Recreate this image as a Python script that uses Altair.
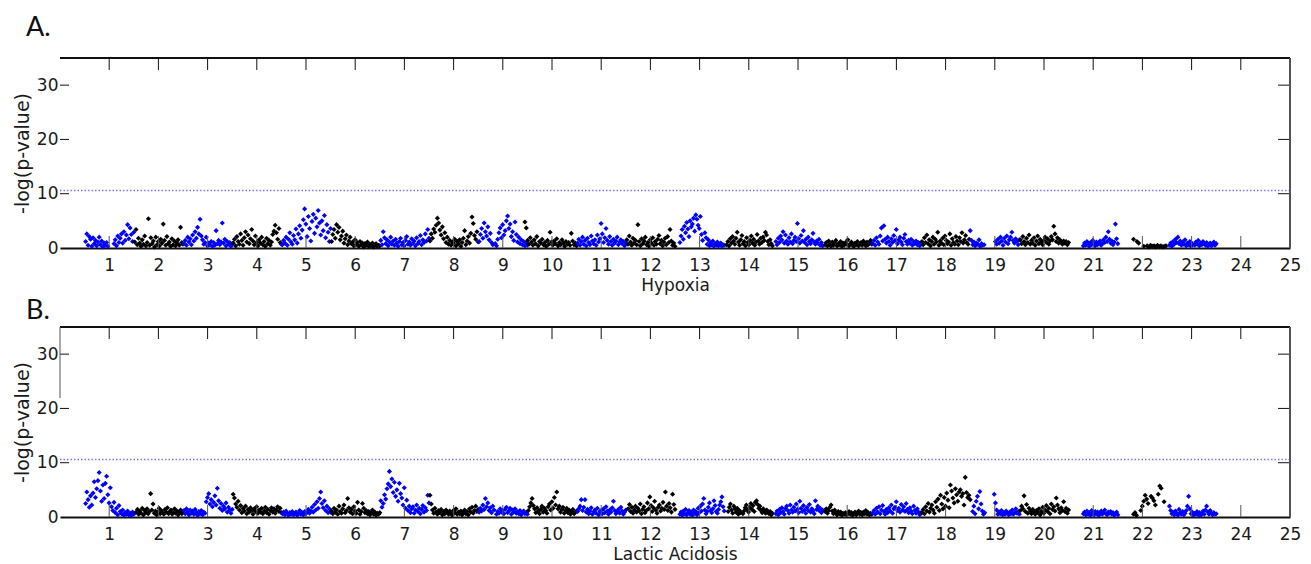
import altair as alt
import pandas as pd

# ---------------- data ----------------
chromosomes = list(range(1, 24))
x_tick_values = list(range(1, 26))
y_tick_values = [10, 20, 30]
y_label_values = [0, 10, 20, 30]
threshold = 10.6

# Panel A: Hypoxia — span (start, end) of points for each chromosome, and -log(p) values in position order
hyp_start = [0.52, 1.52, 2.52, 3.52, 4.52, 5.52, 6.52, 7.52, 8.52, 9.45, 10.52, 11.52,
             12.60, 13.55, 14.55, 15.55, 16.52, 17.52, 18.50, 19.52, 20.80, 21.82, 22.55]
hyp_end = [1.50, 2.50, 3.50, 4.50, 5.50, 6.50, 7.50, 8.50, 9.50, 10.50, 11.50, 12.50,
           13.50, 14.48, 15.50, 16.50, 17.50, 18.48, 19.50, 20.50, 21.50, 22.48, 23.50]
hyp_values = [
    [1.2,2.6,0.5,2.1,1.6,0.3,1.9,0.8,1.4,0.4,1.1,2.0,0.6,1.3,0.2,0.9,0.5,1.0,0.3,None,None,None,None,0.8,1.5,0.4,2.2,1.0,1.8,2.6,0.9,3.0,1.4,2.4,4.3,1.7,3.7,2.5,1.2,2.9],
    [1.1,3.4,0.6,1.8,0.9,0.3,1.5,0.7,2.2,0.4,1.0,5.4,0.5,1.9,0.8,1.3,0.2,2.0,0.6,1.2,0.4,1.6,0.9,4.4,1.4,0.5,2.1,0.8,1.1,0.3,1.7,0.6,1.3,0.4,0.9,1.5,0.5,3.8,1.0,0.7],
    [0.8,1.4,0.5,2.0,1.1,1.7,0.6,2.4,1.3,3.0,1.8,3.8,2.6,5.3,2.2,1.5,0.7,1.0,2.0,0.4,0.9,0.6,1.2,0.3,1.0,0.5,3.2,0.8,1.4,0.6,1.1,4.6,0.9,1.6,0.4,1.2,0.7,1.0,0.3,0.8],
    [0.9,1.6,0.4,2.1,1.2,0.7,2.6,1.4,0.5,1.9,3.0,1.1,2.4,0.8,1.7,3.4,1.3,0.6,2.2,1.0,0.4,1.5,0.9,2.0,0.6,1.2,0.3,1.8,0.8,1.4,0.5,1.1,2.5,3.1,4.2,2.8,1.6,3.6,1.0,0.7],
    [0.6,1.4,0.9,2.0,0.5,1.6,2.8,1.1,0.7,2.3,1.5,3.5,0.9,2.6,4.1,1.8,3.3,5.2,7.2,4.4,2.1,5.8,3.6,1.3,4.9,6.2,2.7,5.5,3.9,6.9,4.6,2.4,5.0,3.2,6.0,1.9,4.3,2.9,1.2,3.6],
    [1.2,2.5,3.4,1.8,4.3,2.9,3.8,1.5,2.2,3.1,0.9,1.7,2.4,0.6,1.3,2.0,0.8,1.1,0.4,1.5,0.7,1.0,0.3,1.2,0.6,0.9,0.2,0.8,0.5,1.1,0.3,0.7,0.4,0.9,0.2,0.6,0.8,0.3,0.5,0.4],
    [1.4,0.6,3.0,1.9,0.8,1.5,0.4,1.1,2.0,0.7,1.3,0.5,1.6,0.9,0.3,1.2,1.8,0.6,1.0,0.4,1.4,2.1,0.7,1.1,0.5,1.7,0.9,1.3,0.4,1.9,0.8,1.2,2.3,0.6,1.5,1.0,2.6,1.3,3.4,1.8],
    [1.3,2.6,1.8,3.5,2.9,4.2,5.5,4.6,3.3,2.4,3.9,1.7,2.8,1.0,2.0,0.7,1.4,0.5,1.1,0.9,1.6,0.4,1.2,0.8,1.5,0.3,1.0,1.8,3.2,0.6,1.3,2.1,0.9,2.7,5.7,4.5,2.3,1.6,3.0,1.1],
    [1.2,2.5,3.6,1.8,4.6,3.0,2.2,3.9,1.5,2.7,1.0,0.6,None,0.8,0.4,1.6,2.8,3.7,1.9,4.3,2.4,3.2,5.0,5.9,3.6,4.4,2.1,3.0,1.4,4.8,2.5,1.1,2.0,0.8,1.5,0.6,1.2,0.4,0.9,0.5],
    [4.8,3.7,1.4,0.7,1.9,1.1,0.5,1.5,0.8,2.1,0.4,1.2,0.9,1.6,0.6,1.0,0.3,1.4,0.7,2.9,1.1,0.5,1.3,0.8,1.7,0.4,1.0,0.6,1.5,0.9,0.3,1.2,0.7,1.0,0.5,2.7,1.3,0.6,0.9,0.4],
    [0.9,1.6,0.5,1.2,2.0,0.7,1.4,0.4,1.8,1.0,0.6,2.2,1.3,0.8,1.5,0.5,2.4,1.1,1.7,4.5,2.6,1.0,1.9,3.6,1.4,0.7,2.1,1.2,0.5,1.6,0.9,1.3,2.0,0.6,1.1,1.5,0.8,1.2,0.4,1.0],
    [1.5,0.7,2.2,1.1,0.5,1.8,0.9,1.4,0.6,4.3,1.2,0.4,1.7,0.8,1.3,2.0,0.6,1.0,0.3,1.5,0.9,1.9,0.5,1.2,0.7,1.6,2.3,0.8,1.4,0.4,1.1,1.8,0.6,2.1,1.0,3.4,1.3,0.5,0.9,0.3],
    [1.0,2.2,3.4,1.6,4.0,2.8,4.7,3.5,2.1,5.0,3.9,4.4,5.5,3.1,6.1,5.3,4.2,3.6,5.8,2.5,1.4,None,2.8,1.9,0.7,1.5,0.4,1.0,0.6,1.3,0.3,0.8,0.5,1.1,0.4,0.7,0.9,0.3,0.6,0.5],
    [0.6,1.2,0.4,1.7,0.9,2.1,1.3,0.7,1.8,2.9,1.1,0.5,1.5,2.3,0.8,1.2,0.4,1.9,1.0,0.6,1.4,2.2,0.9,1.6,0.5,1.1,2.5,1.3,0.7,1.8,1.0,2.0,1.4,2.9,2.4,1.2,0.6,1.5,0.8,0.4],
    [1.2,0.6,1.8,1.0,2.2,1.5,3.0,0.9,2.4,1.3,0.7,1.9,1.1,2.6,0.8,1.4,2.0,1.2,4.5,1.7,0.9,2.3,1.3,3.2,1.0,1.6,0.6,2.0,1.2,0.8,1.5,2.7,1.1,0.7,1.3,0.9,1.6,0.5,1.0,0.4],
    [0.6,1.0,0.4,1.3,0.7,0.3,1.1,0.5,0.9,1.4,0.4,0.8,0.6,1.2,0.3,0.9,0.5,1.0,0.7,1.5,0.4,0.8,1.1,0.5,0.3,0.9,0.6,1.2,0.4,0.7,1.0,0.5,1.3,0.8,0.4,1.1,0.6,0.9,1.4,0.7],
    [0.8,1.4,0.5,1.9,1.1,0.7,2.2,3.7,1.3,4.1,1.6,0.9,2.0,1.2,0.5,1.7,1.0,2.3,1.4,3.4,0.8,1.5,2.0,1.1,0.6,1.8,2.5,1.2,0.7,1.4,0.9,1.6,0.5,1.2,0.8,1.3,0.6,1.0,0.4,0.9],
    [1.2,0.6,1.9,1.0,2.4,0.8,1.5,0.4,1.2,2.0,0.7,1.6,1.1,2.9,0.5,1.3,0.9,1.8,0.6,2.2,1.4,0.8,1.1,2.6,0.5,1.7,1.0,0.7,2.1,1.3,0.6,1.9,1.2,2.8,0.9,1.5,2.3,1.0,0.7,1.6],
    [3.2,1.4,0.6,1.1,0.4,0.9,0.7,1.5,0.3,0.8,0.5,0.6,None,None,None,None,None,None,None,None,1.2,0.7,1.6,0.9,2.0,1.3,0.5,1.8,1.1,2.2,0.8,1.5,2.0,2.9,1.4,0.9,1.7,1.2,0.6,1.5],
    [1.5,0.8,2.1,1.2,0.6,1.8,1.0,2.4,0.7,1.4,0.9,1.9,0.5,1.3,2.2,0.8,1.6,1.1,0.6,1.4,2.0,1.0,1.7,0.7,1.3,2.1,1.5,4.0,2.6,1.2,1.9,0.9,1.5,1.1,0.7,1.3,0.9,1.2,0.6,1.0],
    [0.4,0.9,0.5,1.2,0.7,0.3,1.0,0.6,1.4,0.8,0.4,1.1,0.6,0.9,1.3,0.5,0.8,1.5,1.0,2.0,1.2,3.0,1.6,0.9,1.3,0.6,1.1,4.4,1.7,0.8],
    [1.6,None,1.2,0.9,None,None,0.3,None,0.4,0.2,0.5,0.3,0.4,0.2,0.5,0.3,0.4,0.2,0.3,0.4],
    [0.5,0.9,0.3,1.2,0.7,1.6,1.0,2.0,0.8,1.3,0.5,1.1,0.7,1.5,0.4,0.9,0.6,1.2,0.3,0.8,None,0.5,1.1,0.7,1.4,0.4,0.9,0.6,1.2,0.8,0.5,1.0,0.3,0.7,0.9,0.4,0.6,1.1,0.5,0.8],
]

# Panel B: Lactic Acidosis
lac_start = [0.52, 1.55, 2.52, 3.52, 4.52, 5.52, 6.52, 7.52, 8.52, 9.52, 10.52, 11.55,
             12.60, 13.58, 14.55, 15.55, 16.52, 17.52, 18.55, 19.52, 20.80, 21.82, 22.55]
lac_end = [1.50, 2.50, 3.50, 4.50, 5.50, 6.50, 7.50, 8.50, 9.50, 10.50, 11.50, 12.50,
           13.50, 14.48, 15.50, 16.50, 17.50, 18.50, 19.50, 20.50, 21.50, 22.50, 23.50]
lac_values = [
    [2.5,4.6,3.2,1.8,3.9,2.2,4.4,6.5,3.6,5.2,6.7,8.2,4.8,2.9,5.9,3.4,6.2,7.5,4.1,2.6,5.4,1.9,1.2,2.7,0.8,1.6,0.4,2.1,1.0,0.6,1.3,0.3,0.8,0.5,1.1,0.4,0.7,0.3,0.9,0.5],
    [0.9,1.4,0.5,1.1,0.7,1.6,0.4,1.2,0.8,1.5,0.6,1.0,4.3,1.3,2.4,0.7,1.1,0.4,0.9,1.6,0.6,1.2,0.8,0.5,1.4,0.9,1.7,0.6,1.0,1.3,0.5,0.8,1.5,0.7,1.1,0.4,0.9,1.3,0.6,1.0],
    [1.2,0.6,1.5,0.9,0.4,1.3,0.7,1.1,0.5,1.4,0.8,0.3,1.0,0.6,1.2,0.4,0.9,0.7,2.8,3.6,4.3,2.4,3.2,1.9,2.7,3.9,2.2,5.3,3.0,1.6,2.5,1.2,2.0,1.5,2.6,0.9,1.8,1.3,0.7,1.4],
    [4.2,3.5,2.4,1.8,2.9,1.3,2.1,0.8,1.6,1.1,2.0,0.6,1.4,0.9,1.7,1.2,0.5,1.5,1.0,1.9,0.7,1.3,0.9,1.6,0.6,1.1,1.8,0.8,1.4,0.5,1.2,1.7,0.9,1.5,0.7,1.3,1.9,1.0,1.6,0.8],
    [0.6,0.9,0.4,1.1,0.7,0.3,0.8,0.5,1.0,0.4,0.7,0.9,0.3,0.6,1.2,0.5,0.8,0.4,1.0,0.6,0.9,1.4,0.7,1.1,1.8,0.9,2.3,1.3,2.8,1.6,3.4,4.6,2.5,1.7,3.0,1.2,2.0,0.8,1.5,0.9],
    [1.1,0.6,1.6,0.9,1.3,0.5,2.0,1.0,0.7,1.5,2.2,0.8,1.2,3.4,1.7,0.9,1.4,0.6,1.9,1.1,0.7,2.7,1.3,0.5,1.0,2.5,1.6,0.8,1.2,0.6,1.0,0.4,0.8,1.3,0.5,0.9,0.3,0.7,0.5,0.8],
    [3.0,1.8,2.5,4.1,3.3,5.2,6.1,8.4,5.6,7.0,4.5,6.4,3.8,5.0,2.9,6.2,4.3,3.5,2.2,5.4,1.6,3.1,1.2,2.0,0.8,1.5,1.9,0.7,1.3,2.2,1.0,1.6,0.6,1.4,2.1,0.9,1.7,1.2,4.0,2.6],
    [4.0,2.4,1.3,0.7,1.6,0.9,0.5,1.2,0.8,1.4,0.4,1.0,0.6,1.3,0.9,0.5,1.1,0.7,0.3,1.2,0.8,1.5,0.5,0.9,0.6,1.1,0.4,0.8,1.3,0.6,1.0,0.4,1.5,0.9,1.8,0.7,1.2,2.0,1.0,1.4],
    [0.9,1.6,1.1,2.2,1.4,3.4,1.9,2.6,1.2,1.7,0.8,2.0,1.3,None,0.5,1.0,0.7,1.5,0.9,1.2,0.6,1.4,1.8,0.8,1.1,1.6,0.5,1.3,0.9,1.5,0.7,1.0,0.6,1.2,0.4,0.9,1.1,0.6,0.8,0.5],
    [1.2,1.9,2.6,3.4,2.1,1.5,0.8,1.7,1.1,0.6,1.4,2.0,0.9,1.6,1.2,0.7,1.9,2.4,1.3,2.8,1.6,3.6,2.2,4.6,1.5,2.0,0.9,1.4,1.8,0.7,1.2,1.6,0.8,1.3,0.5,1.0,1.4,0.6,0.9,1.1],
    [1.0,1.5,2.0,3.2,1.2,1.8,3.2,0.9,1.4,0.6,1.1,1.7,0.5,0.9,1.3,0.7,1.6,0.4,1.0,1.2,0.6,1.5,0.8,1.9,1.1,0.5,1.3,0.9,1.7,2.9,1.2,0.6,1.0,1.4,0.7,1.8,1.1,0.5,0.9,1.3],
    [1.5,2.3,1.0,1.8,0.7,1.3,2.0,0.9,1.6,1.1,2.4,0.6,1.4,1.9,0.8,1.2,2.6,1.5,3.7,2.1,1.0,1.7,2.9,1.3,0.7,1.8,2.2,1.1,1.6,2.7,1.4,4.6,2.0,1.2,2.5,1.7,0.9,4.2,2.3,1.4],
    [0.5,0.9,0.3,1.1,0.6,1.4,0.4,0.8,1.2,0.5,0.9,0.3,1.3,0.7,1.0,0.4,1.6,0.8,2.0,1.1,2.4,3.4,1.3,0.6,1.0,1.8,2.6,1.2,0.8,1.5,3.0,2.1,1.0,0.7,1.4,2.2,2.8,3.7,1.9,1.1],
    [1.0,1.8,2.4,1.3,0.7,2.0,1.5,0.9,1.6,0.5,1.2,0.8,None,0.6,1.1,1.7,2.2,1.3,0.9,1.8,2.5,1.4,2.1,1.0,2.7,3.0,2.3,1.6,2.0,1.2,0.8,1.5,1.1,0.7,1.3,0.9,0.6,1.0,0.4,0.7],
    [0.6,1.1,0.4,1.4,0.8,1.7,1.0,0.5,1.5,2.0,1.2,0.7,2.2,1.3,0.9,1.8,1.1,2.4,1.4,0.8,2.9,1.6,1.0,2.1,1.3,0.7,1.8,1.2,2.3,0.9,1.5,1.1,0.6,3.0,1.4,2.0,1.2,1.6,0.8,1.3],
    [1.0,1.5,0.7,1.2,1.8,2.2,1.1,0.6,1.3,0.8,0.4,1.0,0.6,0.9,0.3,0.7,0.5,0.8,0.4,0.6,1.0,0.5,0.8,0.3,0.6,0.9,0.4,0.7,1.1,0.5,0.8,0.4,0.9,0.6,1.2,0.5,0.8,0.4,0.7,0.5],
    [0.7,1.2,0.5,1.6,0.9,1.9,0.6,1.3,2.1,1.0,0.5,1.4,0.8,1.7,1.1,2.2,0.7,1.5,1.8,2.8,1.2,1.6,0.9,2.3,1.3,1.9,1.0,2.5,1.4,0.8,1.7,1.1,0.6,2.0,1.2,0.7,1.5,0.9,0.4,0.8],
    [0.8,1.4,0.6,1.9,1.1,2.5,0.9,1.6,2.2,1.3,0.7,2.8,1.8,3.3,1.2,4.0,2.4,1.5,3.6,2.0,4.4,3.1,1.7,5.9,4.8,3.5,2.6,5.2,4.1,2.9,4.6,5.0,3.8,4.3,2.2,7.3,4.5,3.6,4.0,3.2],
    [1.0,2.0,0.6,2.9,3.8,1.5,4.7,2.4,1.1,0.5,0.8,None,None,None,None,None,None,None,4.2,2.6,1.3,0.5,0.9,0.6,1.2,0.4,0.8,0.5,1.1,0.7,0.4,0.9,0.6,1.3,0.5,0.8,1.5,0.7,1.0,0.5],
    [1.2,2.0,1.5,3.9,1.0,2.3,0.7,1.6,1.1,0.6,1.4,0.9,0.5,1.2,0.8,1.5,0.4,1.0,1.8,0.7,1.3,2.1,1.0,1.6,0.6,2.4,1.4,1.9,1.1,3.5,2.2,1.5,0.8,1.7,1.2,2.8,1.0,1.6,0.7,1.3],
    [0.6,0.9,0.4,1.1,0.5,0.8,0.3,1.2,0.7,0.4,1.0,0.6,0.9,0.3,0.7,1.1,0.5,0.8,1.3,0.6,0.4,0.9,0.7,1.0,0.5,0.8,0.3,0.6,0.9,0.4],
    [0.5,0.8,0.3,None,None,1.2,2.0,2.9,4.0,3.3,2.5,None,3.8,3.5,3.0,2.2,None,4.2,5.7,5.3,None,2.8,None,None],
    [2.0,1.2,0.6,0.9,0.4,1.1,0.7,0.3,1.4,0.8,0.5,1.0,0.4,0.7,1.2,2.0,3.8,1.5,0.6,0.9,0.3,0.7,0.5,1.0,0.4,0.8,0.3,0.6,1.1,0.5,1.3,2.0,0.9,0.5,1.2,0.7,0.4,0.8,0.5,0.6],
]

# left axis line in panel B is only drawn over the upper part
lac_left_line = [35, 21.9]


def build(values, starts, ends):
    rows = []
    for c, vals, s, e in zip(chromosomes, values, starts, ends):
        n = len(vals)
        for i, v in enumerate(vals):
            if v is None:
                continue
            rows.append({"pos": s + (e - s) * i / (n - 1), "logp": v,
                         "group": "odd" if c % 2 else "even"})
    return pd.DataFrame(rows)


W, H = 1230, 190
FONT = "DejaVu Sans"
x_scale = alt.Scale(domain=[0, 25], nice=False, zero=False)
y_scale = alt.Scale(domain=[0, 35], nice=False, zero=False)
xt = pd.DataFrame({"pos": x_tick_values})
yt = pd.DataFrame({"logp": y_tick_values})


def panel(df, xtitle, letter, letter_y, left_line=None):
    x_axis = alt.Axis(values=x_tick_values, title=xtitle, ticks=False, tickSize=0, grid=False,
                      domain=True, domainColor="#111111", domainWidth=2,
                      labelPadding=9, titlePadding=4, labelFlush=False)
    y_axis = alt.Axis(values=y_label_values, title="-log(p-value)", ticks=False, tickSize=0,
                      grid=False, domain=False, labelPadding=2, titlePadding=4,
                      titleFontSize=19)
    X = lambda: alt.X("pos:Q", scale=x_scale, axis=x_axis)
    Y = lambda: alt.Y("logp:Q", scale=y_scale, axis=y_axis)

    pts = alt.Chart(df).mark_point(shape="diamond", filled=True, size=26, opacity=1).encode(
        x=X(), y=Y(),
        color=alt.Color("group:N", scale=alt.Scale(domain=["odd", "even"], range=["#0000ff", "#000000"]),
                        legend=None),
    )
    thr = alt.Chart(pd.DataFrame({"logp": [threshold]})).mark_rule(
        color="#7777ff", strokeDash=[1.5, 2], strokeWidth=1.4
    ).encode(y=Y())
    top_ticks = alt.Chart(xt).mark_rule(color="#111111", strokeWidth=1).encode(
        x=X(), y=alt.value(0), y2=alt.value(12))
    bot_ticks = alt.Chart(xt).mark_rule(color="#555555", strokeWidth=1).encode(
        x=X(), y=alt.value(H - 12), y2=alt.value(H))
    left_ticks = alt.Chart(yt).mark_rule(color="#111111", strokeWidth=1).encode(
        y=Y(), x=alt.value(0), x2=alt.value(9))
    right_ticks = alt.Chart(yt).mark_rule(color="#111111", strokeWidth=1).encode(
        y=Y(), x=alt.value(W - 12), x2=alt.value(W))
    top_line = alt.Chart(xt).mark_rule(color="#111111", strokeWidth=1.5).encode(
        x=alt.value(0), x2=alt.value(W), y=alt.value(0))
    right_line = alt.Chart(xt).mark_rule(color="#555555", strokeWidth=1).encode(
        x=alt.value(W), y=alt.value(0), y2=alt.value(H))
    label = alt.Chart(pd.DataFrame({"lab": [letter]})).mark_text(
        align="left", baseline="alphabetic", fontSize=27, font="Lato", color="#111111"
    ).encode(text="lab:N", x=alt.value(-34), y=alt.value(letter_y))
    layers = [thr, pts, top_ticks, bot_ticks, left_ticks, right_ticks, top_line, right_line, label]
    if left_line is not None:
        ll = alt.Chart(pd.DataFrame({"logp": [left_line[0]], "b": [left_line[1]]})).mark_rule(
            color="#555555", strokeWidth=1).encode(x=alt.value(0), y=Y(), y2="b:Q")
        layers.append(ll)
    return alt.layer(*layers).properties(width=W, height=H)


chart_a = panel(build(hyp_values, hyp_start, hyp_end), "Hypoxia", "A.", -22)
chart_b = panel(build(lac_values, lac_start, lac_end), "Lactic Acidosis", "B.", -8, lac_left_line)

chart = alt.vconcat(chart_a, chart_b, spacing=4).properties(
    padding={"left": 5, "top": 6, "right": 0, "bottom": 0}
).configure_view(
    stroke=None
).configure_axis(
    labelFont=FONT, labelFontSize=17, labelColor="#1a1a1a",
    titleFont=FONT, titleFontSize=17, titleFontWeight="normal", titleColor="#1a1a1a",
)

chart.save("out.html", embed_options={"renderer": "svg", "actions": False})
